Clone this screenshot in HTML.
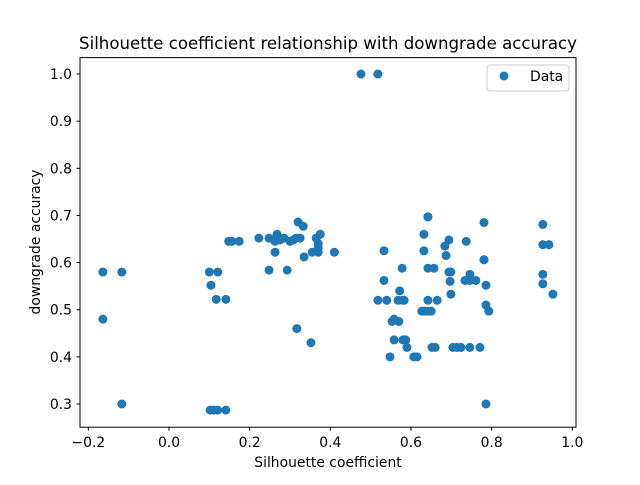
<!DOCTYPE html>
<html><head><meta charset="utf-8"><style>
body{margin:0;background:#fff;}
svg{font-family:"DejaVu Sans","Liberation Sans",sans-serif;}
</style></head><body>
<svg id="chart" width="640" height="480" xmlns="http://www.w3.org/2000/svg">
<rect width="640" height="480" fill="#fff"/>
<text x="328" y="49" text-anchor="middle" font-size="16.6">Silhouette coefficient relationship with downgrade accuracy</text>
<g id="marks"></g>
<rect x="80" y="57.6" width="496" height="369.6" fill="none" stroke="#000" stroke-width="1"/>
<g id="xt"></g>
<g id="yt"></g>
<text x="328" y="467" text-anchor="middle" font-size="13.9">Silhouette coefficient</text>
<text transform="translate(40,242) rotate(-90)" text-anchor="middle" font-size="13.9">downgrade accuracy</text>
<g>
<rect x="487" y="65" width="82" height="26" rx="3" fill="#fff" stroke="#ccc"/>
<circle cx="504" cy="76" r="4.5" fill="#1f77b4"/>
<text x="530" y="81" font-size="13.9">Data</text>
</g>
</svg>
<script>
const xVals=[-0.164,-0.164,-0.117,-0.117,0.1,0.104,0.117,0.121,0.141,0.102,0.111,0.121,0.141,0.148,0.156,0.174,0.223,0.248,0.248,0.263,0.268,0.263,0.275,0.285,0.293,0.300,0.308,0.315,0.325,0.317,0.320,0.333,0.335,0.352,0.355,0.365,0.370,0.370,0.375,0.370,0.410,0.476,0.518,0.518,0.533,0.533,0.540,0.548,0.553,0.558,0.558,0.570,0.572,0.568,0.580,0.578,0.583,0.580,0.587,0.590,0.607,0.615,0.627,0.632,0.632,0.635,0.642,0.650,0.642,0.642,0.642,0.642,0.657,0.652,0.660,0.665,0.684,0.687,0.694,0.697,0.694,0.699,0.699,0.704,0.714,0.724,0.734,0.737,0.746,0.746,0.746,0.761,0.771,0.781,0.781,0.781,0.786,0.786,0.786,0.793,0.927,0.927,0.927,0.927,0.942,0.952];
const yVals=[0.58,0.48,0.58,0.30,0.58,0.552,0.522,0.58,0.522,0.287,0.287,0.287,0.287,0.645,0.645,0.645,0.652,0.652,0.584,0.645,0.66,0.622,0.648,0.652,0.584,0.645,0.648,0.652,0.652,0.46,0.686,0.677,0.612,0.43,0.622,0.652,0.631,0.64,0.66,0.622,0.622,1.0,1.0,0.52,0.625,0.562,0.52,0.4,0.475,0.48,0.436,0.475,0.54,0.52,0.52,0.588,0.52,0.436,0.436,0.42,0.4,0.4,0.497,0.66,0.625,0.497,0.497,0.497,0.697,0.697,0.52,0.588,0.588,0.42,0.42,0.52,0.635,0.615,0.648,0.56,0.58,0.533,0.58,0.42,0.42,0.42,0.562,0.645,0.575,0.562,0.42,0.562,0.42,0.685,0.606,0.606,0.552,0.51,0.30,0.497,0.681,0.638,0.575,0.555,0.638,0.533];
const xTicks=[-0.2,0,0.2,0.4,0.6,0.8,1.0];
const xTickLabels=["−0.2","0.0","0.2","0.4","0.6","0.8","1.0"];
const yTicks=[0.3,0.4,0.5,0.6,0.7,0.8,0.9,1.0];
const yTickLabels=["0.3","0.4","0.5","0.6","0.7","0.8","0.9","1.0"];
const NS="http://www.w3.org/2000/svg";
function sx(v){return 169+v*403.3;}
function sy(v){return 404-(v-0.3)*471.4;}
const marks=document.getElementById('marks');
for(let i=0;i<xVals.length;i++){
  const c=document.createElementNS(NS,'circle');
  c.setAttribute('cx',sx(xVals[i]));c.setAttribute('cy',sy(yVals[i]));
  c.setAttribute('r',4.5);c.setAttribute('fill','#1f77b4');
  
  
  marks.appendChild(c);
}
const xt=document.getElementById('xt');
xTicks.forEach((v,i)=>{
  const l=document.createElementNS(NS,'line');
  l.setAttribute('x1',sx(v));l.setAttribute('x2',sx(v));l.setAttribute('y1',427.2);l.setAttribute('y2',430.7);l.setAttribute('stroke','#000');
  
  
  xt.appendChild(l);
  const t=document.createElementNS(NS,'text');
  t.setAttribute('x',sx(v));t.setAttribute('y',447);t.setAttribute('text-anchor','middle');t.setAttribute('font-size','13.9');
  t.textContent=xTickLabels[i];
  
  
  xt.appendChild(t);
});
const yt=document.getElementById('yt');
yTicks.forEach((v,i)=>{
  const l=document.createElementNS(NS,'line');
  l.setAttribute('x1',76.5);l.setAttribute('x2',80);l.setAttribute('y1',sy(v));l.setAttribute('y2',sy(v));l.setAttribute('stroke','#000');
  
  
  yt.appendChild(l);
  const t=document.createElementNS(NS,'text');
  t.setAttribute('x',72);t.setAttribute('y',sy(v)+5);t.setAttribute('text-anchor','end');t.setAttribute('font-size','13.9');
  t.textContent=yTickLabels[i];
  
  
  yt.appendChild(t);
});
</script>
</body></html>
